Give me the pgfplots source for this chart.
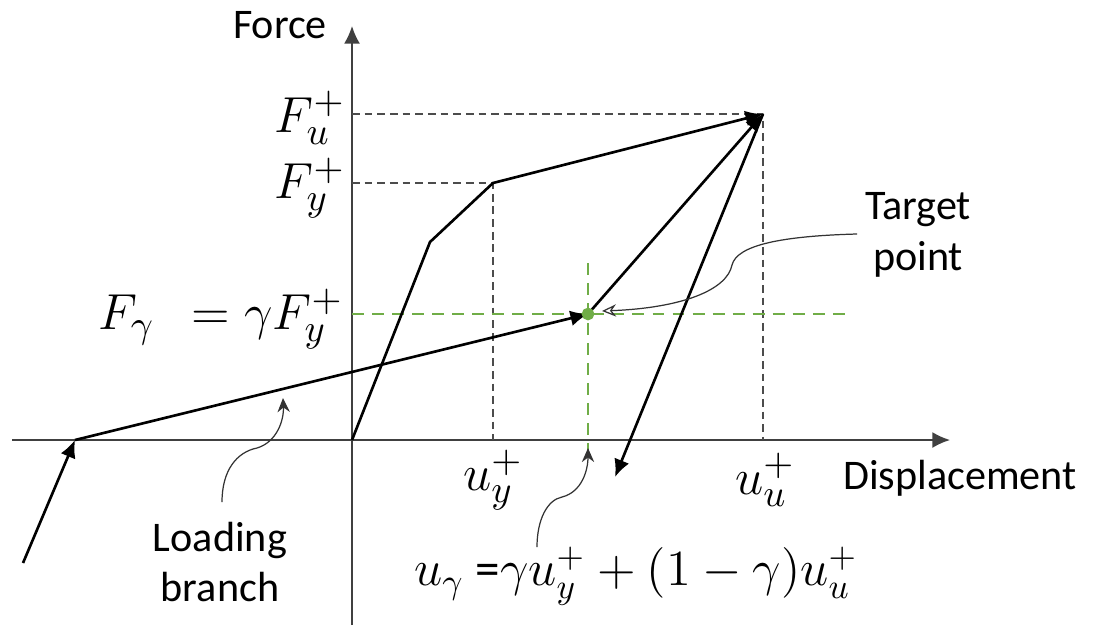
\documentclass[border=0pt]{standalone}
\usepackage{fontspec}
\setmainfont{Carlito}
\usepackage{pgfplots}
\pgfplotsset{compat=1.18}
\usetikzlibrary{arrows.meta}
\definecolor{tgreen}{HTML}{70AD47}
\begin{document}
\begin{tikzpicture}
\begin{axis}[
    width=10.94cm, height=6.25cm,
    scale only axis,
    xmin=-352, xmax=742,
    ymin=-185, ymax=440,
    hide axis,
    clip=false,
    every axis plot/.append style={line join=round},
]
% corners for the bounding box
\coordinate (ll) at (axis cs:-352,-185);
\coordinate (ur) at (axis cs:742,440);

% axes
\addplot[black!75, line width=0.45pt, -{Latex[length=5pt,width=4.5pt]}] coordinates {(-340,0) (598,0)};
\addplot[black!75, line width=0.45pt, -{Latex[length=5pt,width=4.5pt]}] coordinates {(0,-185) (0,414)};

% reference lines
\addplot[black!70, line width=0.4pt, dash pattern=on 2.2pt off 1.4pt] coordinates {(0,326) (411,326) (411,0)};
\addplot[black!70, line width=0.4pt, dash pattern=on 2.2pt off 1.4pt] coordinates {(0,257) (141,257) (141,0)};
\addplot[tgreen, line width=0.6pt, dash pattern=on 3.4pt off 2.3pt] coordinates {(0,126) (493,126)};
\addplot[tgreen, line width=0.6pt, dash pattern=on 3.4pt off 2.3pt] coordinates {(236,177) (236,-15)};

% force-displacement branches
\addplot[black, line width=0.75pt, -{Latex[length=5pt,width=4.5pt]}] coordinates {(0,0) (78,198) (141,257) (411,326)};
\addplot[black, line width=0.75pt, -{Latex[length=5pt,width=4.5pt]}] coordinates {(236,126) (411,326)};
\addplot[black, line width=0.75pt, -{Latex[length=5pt,width=4.5pt]}] coordinates {(411,326) (263,-37)};
\addplot[black, line width=0.75pt, -{Latex[length=5pt,width=4.5pt]}] coordinates {(-277,0) (236,126)};
\addplot[black, line width=0.75pt, -{Latex[length=5pt,width=4.5pt]}] coordinates {(-329,-123) (-277,0)};

% target point
\addplot[only marks, mark=*, mark size=1.6pt, tgreen] coordinates {(236,126)};

% annotation arrows
\draw[black!80, line width=0.35pt, -{Stealth[length=4pt,width=3.5pt,open]}]
  (axis cs:505,206) .. controls (axis cs:430,204) and (axis cs:385,195) .. (axis cs:380,175)
  .. controls (axis cs:375,150) and (axis cs:330,132) .. (axis cs:250,129);
\draw[black!80, line width=0.35pt, -{Stealth[length=4pt,width=3.5pt]}]
  (axis cs:-130,-62) .. controls (axis cs:-130,-30) and (axis cs:-115,-12) .. (axis cs:-95,-8)
  .. controls (axis cs:-75,-2) and (axis cs:-68,20) .. (axis cs:-69,42);
\draw[black!80, line width=0.35pt, -{Stealth[length=4pt,width=3.5pt]}]
  (axis cs:185,-107) .. controls (axis cs:185,-80) and (axis cs:195,-60) .. (axis cs:210,-57)
  .. controls (axis cs:230,-52) and (axis cs:236,-30) .. (axis cs:236,-8);

% labels
\begin{scope}[every node/.style={font=\fontsize{12}{14.5}\selectfont, inner sep=0pt}]
\node at (axis cs:-72,415) {Force};
\node at (axis cs:608,-38) {Displacement};
\node[align=center] at (axis cs:566,205) {Target\\point};
\node[align=center] at (axis cs:-132,-122) {Loading\\branch};
\end{scope}
\begin{scope}[every node/.style={font=\fontsize{15}{18}\selectfont, inner sep=0pt}]
\node[anchor=east] at (axis cs:-6,322) {$F_u^+$};
\node[anchor=east] at (axis cs:-6,252) {$F_y^+$};
\node[anchor=east] at (axis cs:-8,121) {$F_{\gamma}$\hspace{0.7em}$= \gamma F_y^+$};
\node at (axis cs:141,-40) {$u_y^+$};
\node at (axis cs:413,-40) {$u_u^+$};
\node[font=\fontsize{14}{17}\selectfont] at (axis cs:284,-136) {$u_{\gamma}$ =$\gamma u_y^+ + (1-\gamma)u_u^+$};
\end{scope}
\end{axis}
\pgfresetboundingbox
\path (ll) rectangle (ur);
\end{tikzpicture}
\end{document}
